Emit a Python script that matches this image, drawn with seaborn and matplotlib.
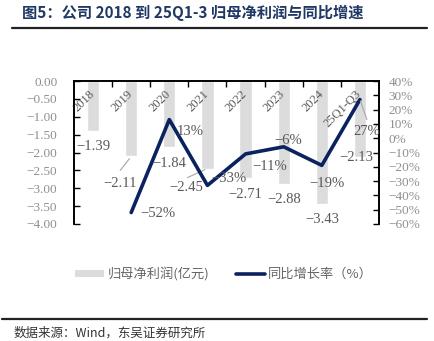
import numpy as np
import pandas as pd
import seaborn as sns
import matplotlib.pyplot as plt
import matplotlib.transforms as mtransforms
from matplotlib.lines import Line2D
from matplotlib.patches import Patch

sns.set_theme(style="white")
plt.rcParams['font.family'] = ['Liberation Serif', 'Noto Sans CJK SC', 'DejaVu Sans']
plt.rcParams['axes.unicode_minus'] = True

# data
categories = ["2018", "2019", "2020", "2021", "2022", "2023", "2024", "25Q1-Q3"]
net_profit = [-1.39, -2.11, -1.84, -2.45, -2.71, -2.88, -3.43, -2.13]   # 亿元
growth_pct = [np.nan, -52, 13, -33, -11, -6, -19, 27]                   # %
left_ticks = [0.0, -0.5, -1.0, -1.5, -2.0, -2.5, -3.0, -3.5, -4.0]
right_ticks = [40, 30, 20, 10, 0, -10, -20, -30, -40, -50, -60]

df = pd.DataFrame({"cat": categories, "profit": net_profit, "growth": growth_pct})
df["pos"] = np.arange(len(df))

BAR = "#dcdcdc"
NAVY = "#0b2260"
TXT = "#595959"
TCK = "#8f8f8f"

fig = plt.figure(figsize=(4.35, 3.41), dpi=100)
W, H = 435, 341
ax = fig.add_axes([74 / W, 1 - 224 / H, 305 / W, 143 / H])

sns.barplot(data=df, x="cat", y="profit", color=BAR, width=0.32,
            saturation=1, ax=ax, zorder=1)
ax.set_xlim(-0.5, len(df) - 0.5)
ax.set_ylim(-4.0, 0.0)
ax.set_yticks(left_ticks)
ax.set_yticklabels([f"{v:.2f}".replace("-", "\u2212") for v in left_ticks],
                   fontsize=9.5, color=TCK)
ax.set_xlabel("")
ax.set_ylabel("")
ax.set_xticks(np.arange(len(df) - 1) + 0.5)
ax.set_xticklabels([])
ax.xaxis.tick_top()
ax.tick_params(axis="x", which="both", direction="in", length=4, width=1,
               color="black", top=True, bottom=False)
ax.tick_params(axis="y", direction="in", length=4, width=1, color="black",
               left=True, pad=12)
for side in ["left", "top", "right"]:
    ax.spines[side].set_visible(True)
    ax.spines[side].set_color("black")
    ax.spines[side].set_linewidth(1.2)
ax.spines["bottom"].set_visible(False)

ax2 = ax.twinx()
sns.lineplot(data=df.dropna(), x="pos", y="growth", color=NAVY, linewidth=2.6,
             ax=ax2, zorder=3)
ax2.set_ylim(-60, 40)
ax2.set_yticks(right_ticks)
ax2.set_yticklabels([f"{v}%".replace("-", "\u2212") for v in right_ticks],
                    fontsize=9.5, color=TCK)
ax2.set_ylabel("")
ax2.set_xlabel("")
ax2.tick_params(axis="y", direction="in", length=4, width=1, color="black",
                right=True, pad=7)
for side in ["left", "top", "right"]:
    ax2.spines[side].set_visible(True)
    ax2.spines[side].set_color("black")
    ax2.spines[side].set_linewidth(1.2)
ax2.spines["bottom"].set_visible(False)
ax2.set_xlim(-0.5, len(df) - 0.5)

# category labels inside the top of the plot
trans = mtransforms.blended_transform_factory(ax.transData, ax.transAxes)
for i, c in enumerate(categories):
    ax.annotate(c, xy=(i, 1.0), xycoords=trans, xytext=(4, -7),
                textcoords="offset pixels", rotation=45, ha="right", va="top",
                fontsize=9, color=TXT, zorder=5)

# bar value labels (x, y offsets in pixels, down positive) and leader lines
bar_off = [(0, 16), (-11, 27), (0, 17), (-21, 19), (0, 17), (0, 16), (0, 16), (-4, 0)]
bar_lead = {1: ((-11, 14), (0, 2)), 3: ((-20, 9), (-3, 0))}
for i, (v, (dx, dy)) in enumerate(zip(net_profit, bar_off)):
    ax.annotate(f"{v:.2f}".replace("-", "\u2212"), xy=(i, v), xytext=(dx, -dy),
                textcoords="offset pixels", ha="center", va="center",
                fontsize=10.5, color=TXT, zorder=6, annotation_clip=False)
    if i in bar_lead:
        (x1, y1), (x2, y2) = bar_lead[i]
        ax.annotate("", xy=(i, v), xytext=(x1, -y1), textcoords="offset pixels",
                    arrowprops=dict(arrowstyle="-", color="#a6a6a6", lw=0.8,
                                    shrinkA=0, shrinkB=2))

# growth labels
g_off = {1: (27, 1), 2: (21, 12), 3: (21, -7), 4: (24, 13), 5: (4, -6),
         6: (5, 18), 7: (7, 32)}
for i, g in enumerate(growth_pct):
    if np.isnan(g):
        continue
    dx, dy = g_off[i]
    ax2.annotate(f"{int(g)}%".replace("-", "\u2212"), xy=(i, g), xytext=(dx, -dy),
                 textcoords="offset pixels", ha="center", va="center",
                 fontsize=10.5, color=TXT, zorder=6, annotation_clip=False)
ax2.annotate("", xy=(7, growth_pct[7]), xytext=(7, -20), textcoords="offset pixels",
             arrowprops=dict(arrowstyle="-", color="#a6a6a6", lw=0.8,
                             shrinkA=0, shrinkB=1))

# title and rules
fig.text(22 / W, 1 - 13 / H, "图5：公司 2018 到 25Q1-3 归母净利润与同比增速",
         fontsize=11, fontweight="bold", color="#1f3864", ha="left", va="center",
         family=["Noto Sans CJK SC", "DejaVu Sans"])
fig.add_artist(Line2D([12 / W, 427 / W], [1 - 27.5 / H] * 2, color="#222222", lw=1.6))
fig.add_artist(Line2D([2 / W, 427 / W], [1 - 318.5 / H] * 2, color="#222222", lw=1.6))
fig.text(14 / W, 1 - 340 / H, "数据来源：Wind，东吴证券研究所", fontsize=9,
         color="#333333", ha="left", va="bottom",
         family=["Noto Sans CJK SC", "DejaVu Sans"])

# legend
handles = [Patch(facecolor=BAR, edgecolor="none"),
           Line2D([0], [0], color=NAVY, lw=2.6)]
fig.legend(handles, ["归母净利润(亿元)", "同比增长率（%）"], loc="center",
           bbox_to_anchor=(224 / W, 1 - 274 / H), ncol=2, frameon=False,
           handlelength=2.2, handleheight=0.45, columnspacing=2.0,
           handletextpad=0.25, labelcolor="#666666",
           prop={"family": ["Noto Sans CJK SC", "DejaVu Sans"], "size": 9.5})

fig.savefig("out.png", dpi=100)
